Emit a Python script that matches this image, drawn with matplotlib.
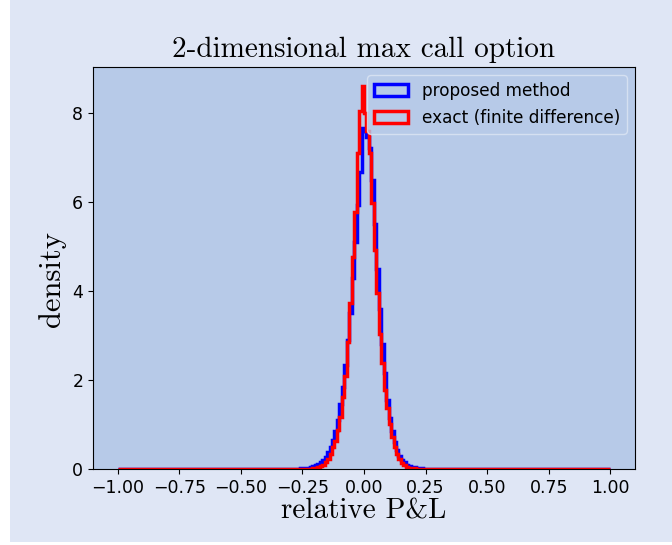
import numpy as np
import matplotlib
matplotlib.use("Agg")
import matplotlib.pyplot as plt
from matplotlib.patches import Rectangle

# Histogram layout: 200 bins on [-1, 1]; densities listed for the bins on [-0.35, 0.35]
HIST_RANGE = (-1.0, 1.0)
N_BINS = 200
CORE_START = -0.35

# exact (finite difference) P&L density, bins [-0.35,-0.34] ... [0.34,0.35]
exact_density = [
    0, 0, 0, 0, 0, 0, 0, 0, 0, 0.001,
    0.002, 0.004, 0.006, 0.01, 0.015, 0.025, 0.04, 0.06, 0.10, 0.15,
    0.23, 0.34, 0.49, 0.64, 0.87, 1.17, 1.62, 2.1, 2.86, 3.72,
    4.76, 5.78, 7.1, 8.04, 8.6,
    8.0, 7.6, 7.1, 5.97, 4.92, 3.95, 3.04, 2.37, 1.77, 1.36,
    1.02, 0.72, 0.49, 0.34, 0.23, 0.13, 0.08, 0.05, 0.03, 0.02,
    0.012, 0.007, 0.004, 0.002, 0.001,
    0, 0, 0, 0, 0, 0, 0, 0, 0, 0,
]

# proposed method P&L density, same bins
proposed_density = [
    0.001, 0.001, 0.002, 0.002, 0.003, 0.004, 0.005, 0.007, 0.01, 0.013,
    0.018, 0.025, 0.033, 0.045, 0.06, 0.08, 0.11, 0.15, 0.2, 0.28,
    0.38, 0.5, 0.65, 0.85, 1.1, 1.47, 1.84, 2.33, 2.9, 3.5,
    4.3, 5.1, 5.93, 6.68, 7.67,
    7.6, 7.45, 7.2, 6.5, 5.5, 4.5, 3.6, 2.8, 2.15, 1.55,
    1.15, 0.85, 0.6, 0.42, 0.3, 0.21, 0.15, 0.1, 0.07, 0.05,
    0.035, 0.025, 0.017, 0.012, 0.008, 0.005, 0.003, 0.002, 0.001,
    0, 0, 0, 0, 0, 0,
]

labels = ["proposed method", "exact (finite difference)"]
colors = ["blue", "red"]

edges = np.linspace(HIST_RANGE[0], HIST_RANGE[1], N_BINS + 1)
centers = 0.5 * (edges[:-1] + edges[1:])
width = edges[1] - edges[0]
i0 = int(round((CORE_START - HIST_RANGE[0]) / width))


def full_weights(core):
    w = np.zeros(N_BINS)
    w[i0:i0 + len(core)] = core
    return w


FIG_BG = "#dfe6f5"
AX_BG = "#b7cae8"

fig = plt.figure(figsize=(6.72, 5.45), dpi=100, facecolor="white")
fig.add_artist(Rectangle((10 / 672, 3 / 545), 1 - 10 / 672, 1 - 3 / 545,
                         transform=fig.transFigure, facecolor=FIG_BG,
                         edgecolor="none", zorder=-10))
ax = fig.add_axes([93 / 672, 1 - 469 / 545, (635 - 93) / 672, (469 - 67) / 545])
ax.set_facecolor(AX_BG)

for core, lab, col in zip([proposed_density, exact_density], labels, colors):
    ax.hist(centers, bins=edges, weights=full_weights(core), histtype="step",
            color=col, linewidth=2.5, label=lab)

ax.set_xticks(np.arange(-1.0, 1.01, 0.25))
ax.set_yticks([0, 2, 4, 6, 8])
ax.tick_params(labelsize=12.5)

ax.set_title("2-dimensional max call option", family="cmr10", size=21, pad=7)
ax.set_xlabel("relative P&L", family="cmr10", size=21, labelpad=1)
ax.set_ylabel("density", family="cmr10", size=22)
ax.yaxis.set_label_coords(-0.05, 0.473)

leg = ax.legend(loc="upper right", fontsize=12.2, facecolor=AX_BG, framealpha=0.8)
leg.get_frame().set_edgecolor("#dde6f4")

fig.savefig("out.png", dpi=100, facecolor=fig.get_facecolor())
